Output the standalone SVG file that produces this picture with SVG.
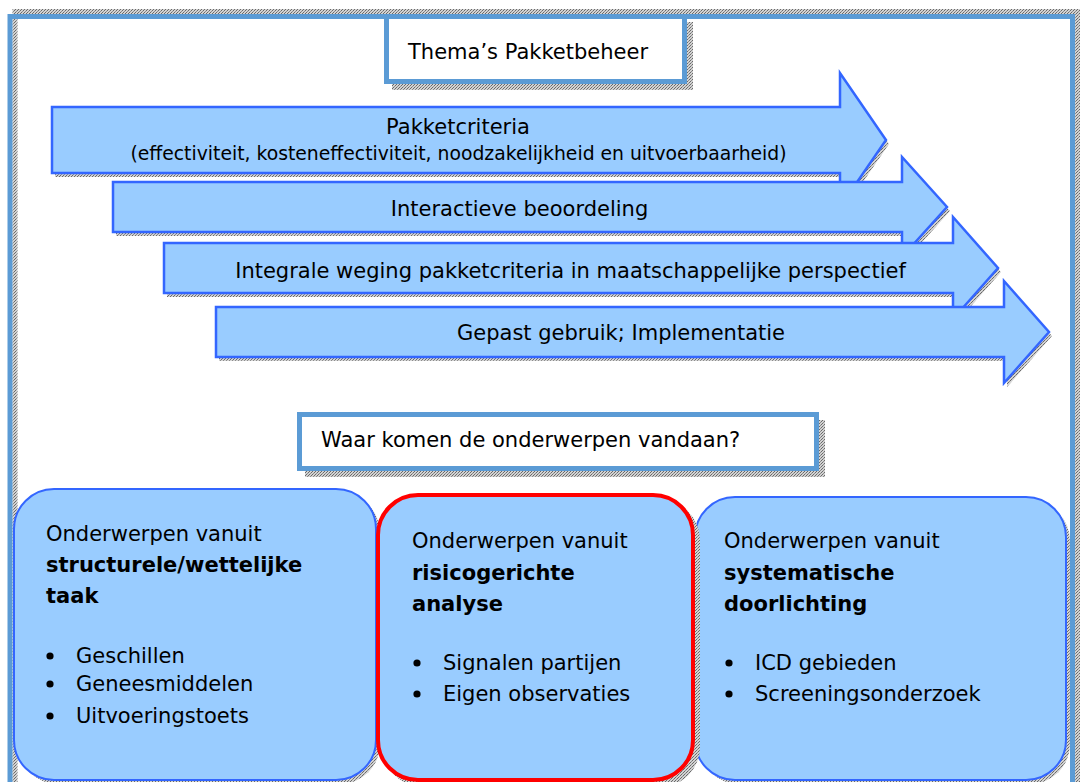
<svg xmlns="http://www.w3.org/2000/svg" width="1083" height="782" viewBox="0 0 1083 782">
  <defs>
    <pattern id="hatch" width="3" height="3" patternUnits="userSpaceOnUse">
      <rect width="3" height="3" fill="#d2d2d2"/>
      <rect width="1" height="1" fill="#6a6a6a"/>
      <rect x="2" y="1" width="1" height="1" fill="#6a6a6a"/>
      <rect x="1" y="2" width="1" height="1" fill="#8c8c8c"/>
    </pattern>
    <style>
      .frame { fill: none; stroke: #5B9BD5; stroke-width: 5; }
      .frameShadow { fill: none; stroke: url(#hatch); stroke-width: 5; }
      .box { fill: #ffffff; stroke: #5B9BD5; stroke-width: 5; }
      .shadow { fill: url(#hatch); stroke: none; }
      .arrow { fill: #99CCFF; stroke: #3366FF; stroke-width: 2.5; stroke-linejoin: miter; }
      .panel { fill: #99CCFF; stroke: #3366FF; stroke-width: 2; }
      .panelRed { fill: #99CCFF; stroke: #FF0000; stroke-width: 4; }
      .dot { fill: #000000; }
      text { font-family: "DejaVu Sans", Verdana, sans-serif; fill: #000000; }
      .t21 { font-size: 21px; }
      .t18 { font-size: 18.8px; }
      .b { font-weight: bold; }
      .mid { text-anchor: middle; }
    </style>
  </defs>
  <rect width="1083" height="782" fill="#ffffff"/>

  <g id="frame">
    <rect class="frameShadow" x="15" y="11.5" width="1062.5" height="800"/>
    <rect class="frame" x="10" y="16.5" width="1062.5" height="800"/>
  </g>

  <g id="title">
    <rect class="shadow" x="392" y="22" width="301" height="68"/>
    <rect class="box" x="386.5" y="16.5" width="298" height="65"/>
    <text class="t21" x="408" y="59">Thema’s Pakketbeheer</text>
  </g>

  <g id="arrow-pakketcriteria">
    <polygon class="shadow" transform="translate(3,4)" points="52,107 840,107 840,73 886,140 840,207 840,173 52,173"/>
    <polygon class="arrow" points="52,107 840,107 840,73 886,140 840,207 840,173 52,173"/>
    <text class="t21 mid" x="458" y="134">Pakketcriteria</text>
    <text class="t18 mid" x="458.5" y="160">(effectiviteit, kosteneffectiviteit, noodzakelijkheid en uitvoerbaarheid)</text>
  </g>

  <g id="arrow-interactieve">
    <polygon class="shadow" transform="translate(3,4)" points="113,182 902,182 902,157 947,207 902,257 902,232 113,232"/>
    <polygon class="arrow" points="113,182 902,182 902,157 947,207 902,257 902,232 113,232"/>
    <text class="t21 mid" x="519.5" y="216">Interactieve beoordeling</text>
  </g>

  <g id="arrow-integrale">
    <polygon class="shadow" transform="translate(3,4)" points="164,243 953,243 953,217 998,268 953,319 953,293 164,293"/>
    <polygon class="arrow" points="164,243 953,243 953,217 998,268 953,319 953,293 164,293"/>
    <text class="t21 mid" x="570.5" y="278">Integrale weging pakketcriteria in maatschappelijke perspectief</text>
  </g>

  <g id="arrow-gepast">
    <polygon class="shadow" transform="translate(3,4)" points="216,307 1004,307 1004,281 1049,332 1004,383 1004,357 216,357"/>
    <polygon class="arrow" points="216,307 1004,307 1004,281 1049,332 1004,383 1004,357 216,357"/>
    <text class="t21 mid" x="621" y="340">Gepast gebruik; Implementatie</text>
  </g>

  <g id="question">
    <rect class="shadow" x="305" y="420" width="520" height="57"/>
    <rect class="box" x="299.5" y="414.5" width="517" height="54"/>
    <text class="t21" x="321" y="447">Waar komen de onderwerpen vandaan?</text>
  </g>

  <g id="panel-structureel">
    <rect class="shadow" x="18" y="493" width="362" height="291" rx="40"/>
    <rect class="panel" x="14" y="489" width="362" height="291" rx="40"/>
    <text class="t21" x="46" y="541">Onderwerpen vanuit</text>
    <text class="t21 b" x="46" y="572">structurele/wettelijke</text>
    <text class="t21 b" x="46" y="603">taak</text>
    <circle class="dot" cx="50" cy="656" r="3.6"/>
    <text class="t21" x="76" y="663">Geschillen</text>
    <circle class="dot" cx="50" cy="684" r="3.6"/>
    <text class="t21" x="76" y="691">Geneesmiddelen</text>
    <circle class="dot" cx="50" cy="716" r="3.6"/>
    <text class="t21" x="76" y="723">Uitvoeringstoets</text>
  </g>

  <g id="panel-systematisch">
    <rect class="shadow" x="699" y="501" width="371" height="283" rx="40"/>
    <rect class="panel" x="695" y="497" width="371" height="283" rx="40"/>
    <text class="t21" x="724" y="548">Onderwerpen vanuit</text>
    <text class="t21 b" x="724" y="580">systematische</text>
    <text class="t21 b" x="724" y="611">doorlichting</text>
    <circle class="dot" cx="729" cy="663" r="3.6"/>
    <text class="t21" x="755" y="670">ICD gebieden</text>
    <circle class="dot" cx="729" cy="694" r="3.6"/>
    <text class="t21" x="755" y="701">Screeningsonderzoek</text>
  </g>

  <g id="panel-risico">
    <rect class="shadow" x="383" y="500" width="317" height="287" rx="40"/>
    <rect class="panelRed" x="378" y="495" width="315" height="285" rx="40"/>
    <text class="t21" x="412" y="548">Onderwerpen vanuit</text>
    <text class="t21 b" x="412" y="580">risicogerichte</text>
    <text class="t21 b" x="412" y="611">analyse</text>
    <circle class="dot" cx="417" cy="663" r="3.6"/>
    <text class="t21" x="443" y="670">Signalen partijen</text>
    <circle class="dot" cx="417" cy="694" r="3.6"/>
    <text class="t21" x="443" y="701">Eigen observaties</text>
  </g>

  <g id="connectors"></g>
</svg>
